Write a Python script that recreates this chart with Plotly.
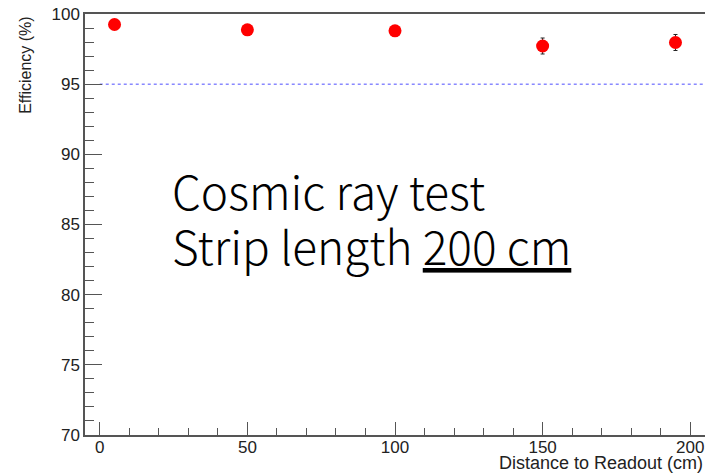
import plotly.graph_objects as go

# Efficiency vs. distance from the readout end
distance_cm = [5, 50, 100, 150, 195]
efficiency_pct = [99.25, 98.87, 98.80, 97.72, 97.97]
efficiency_err = [0.30, 0.35, 0.35, 0.57, 0.57]
threshold_pct = 95

x_range = [-5, 205]
y_range = [70, 100]

axis_font = dict(family="Liberation Sans, Arial, sans-serif", size=17, color="#222")
line_col = "#555555"

fig = go.Figure()

fig.add_trace(go.Scatter(
    x=distance_cm,
    y=efficiency_pct,
    mode="markers",
    marker=dict(color="#ff0000", size=13, line=dict(width=0)),
    error_y=dict(type="data", array=efficiency_err, color="#222222",
                 thickness=1, width=2),
    showlegend=False,
    cliponaxis=False,
))

# 95 % reference line
fig.add_shape(type="line", xref="x", yref="y",
              x0=0, x1=x_range[1], y0=threshold_pct, y1=threshold_pct,
              line=dict(color="#4d4dff", width=1, dash="dot"), layer="below")

fig.update_xaxes(
    range=x_range,
    tickvals=[0, 50, 100, 150, 200],
    ticks="inside", ticklen=13, tickwidth=1, tickcolor=line_col,
    minor=dict(ticks="inside", ticklen=7, dtick=10, tick0=0, tickcolor=line_col, tickwidth=1),
    showline=True, linecolor=line_col, linewidth=1.5, mirror=True,
    showgrid=False, zeroline=False,
    tickfont=axis_font, ticklabelstandoff=-4,
)
fig.update_yaxes(
    range=y_range,
    tickvals=[70, 75, 80, 85, 90, 95, 100],
    ticks="inside", ticklen=17, tickwidth=1, tickcolor=line_col,
    minor=dict(ticks="inside", ticklen=9, dtick=1, tick0=70, tickcolor=line_col, tickwidth=1),
    showline=True, linecolor=line_col, linewidth=1.5, mirror=False,
    showgrid=False, zeroline=False,
    tickfont=axis_font,
)

fig.add_annotation(
    text="Efficiency (%)", textangle=-90,
    xref="paper", yref="paper", x=-0.097, y=1.0,
    xanchor="center", yanchor="top", showarrow=False,
    font=dict(family="Liberation Sans, Arial, sans-serif", size=16, color="#222"),
)
fig.add_annotation(
    text="Distance to Readout (cm)",
    xref="paper", yref="paper", x=1.0, y=-0.037,
    xanchor="right", yanchor="top", showarrow=False,
    font=dict(family="Liberation Sans, Arial, sans-serif", size=18, color="#222"),
)

label_font = dict(family="Noto Sans CJK SC, Noto Sans, sans-serif", size=46,
                  color="#000", weight=300)
fig.add_annotation(
    text="Cosmic ray test",
    xref="paper", yref="paper", x=0.137, y=0.665,
    xanchor="left", yanchor="top", align="left", showarrow=False,
    font=label_font,
)
fig.add_annotation(
    text="Strip length <u>200 cm</u>",
    xref="paper", yref="paper", x=0.137, y=0.535,
    xanchor="left", yanchor="top", align="left", showarrow=False,
    font=label_font,
)

fig.update_layout(
    width=705, height=475,
    margin=dict(l=85, r=0, t=14, b=40),
    paper_bgcolor="white", plot_bgcolor="white",
)

fig.write_html("out.html")
